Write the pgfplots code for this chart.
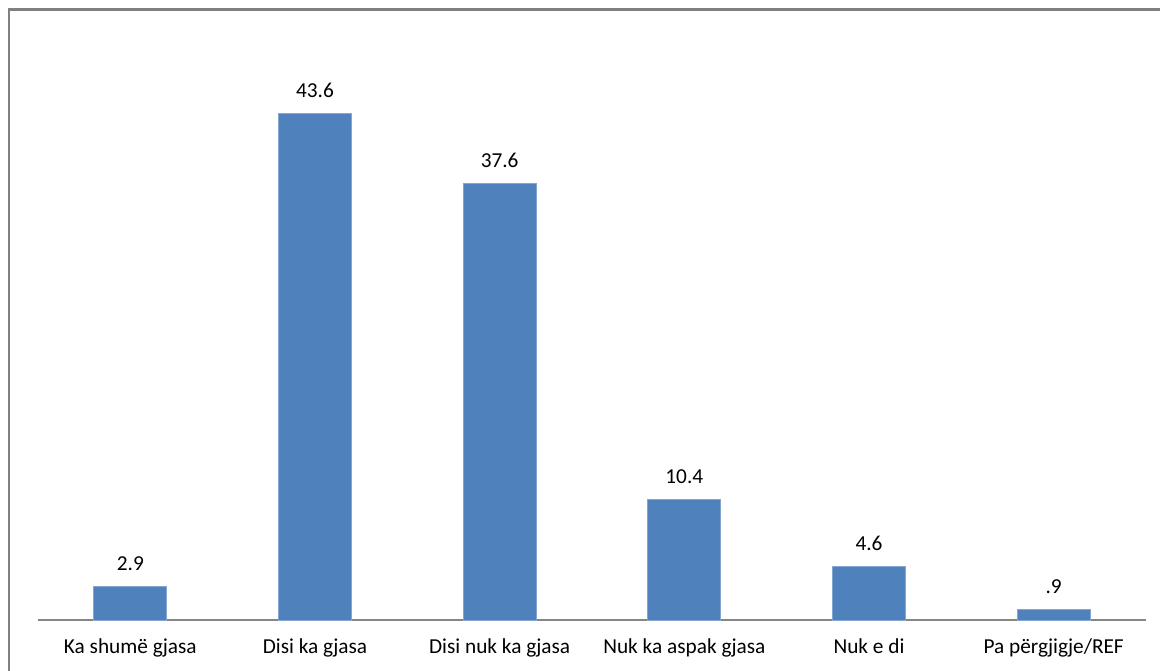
\documentclass[border=0pt]{standalone}
\usepackage{fontspec}
\setmainfont{Carlito}
\usepackage{pgfplots}
\pgfplotsset{compat=1.18}
\definecolor{barblue}{RGB}{79,129,189}
\definecolor{bargray}{RGB}{134,134,134}
\definecolor{framegray}{RGB}{128,128,128}
\begin{document}
\begin{tikzpicture}[x=1pt,y=1pt]
\useasboundingbox (0,0) rectangle (1160,671);
\draw[framegray, line width=2.2pt] (9,0) -- (9,661.5) -- (1160,661.5);
\begin{axis}[
  at={(38pt,51pt)}, anchor=south west,
  scale only axis,
  width=1108pt, height=581pt,
  xmin=-0.5, xmax=5.5,
  ymin=0, ymax=50,
  axis y line=none,
  axis x line*=bottom,
  axis line style={bargray, line width=2pt, -},
  xtick=data,
  xticklabels={Ka shumë gjasa, Disi ka gjasa, Disi nuk ka gjasa, Nuk ka aspak gjasa, Nuk e di, Pa përgjigje/REF},
  major tick length=0pt,
  xticklabel style={font=\fontsize{21.3}{24}\selectfont, yshift=-15pt},
  ybar, bar width=73pt,
  nodes near coords,
  point meta=explicit symbolic,
  every node near coord/.append style={font=\fontsize{21.3}{24}\selectfont, yshift=12pt},
  clip=false,
]
\addplot[fill=barblue, draw=barblue!70!white, line width=0.8pt] coordinates {
  (0,2.9) [2.9] (1,43.6) [43.6] (2,37.6) [37.6] (3,10.4) [10.4] (4,4.6) [4.6] (5,0.9) [.9]
};
\end{axis}
\end{tikzpicture}
\end{document}
